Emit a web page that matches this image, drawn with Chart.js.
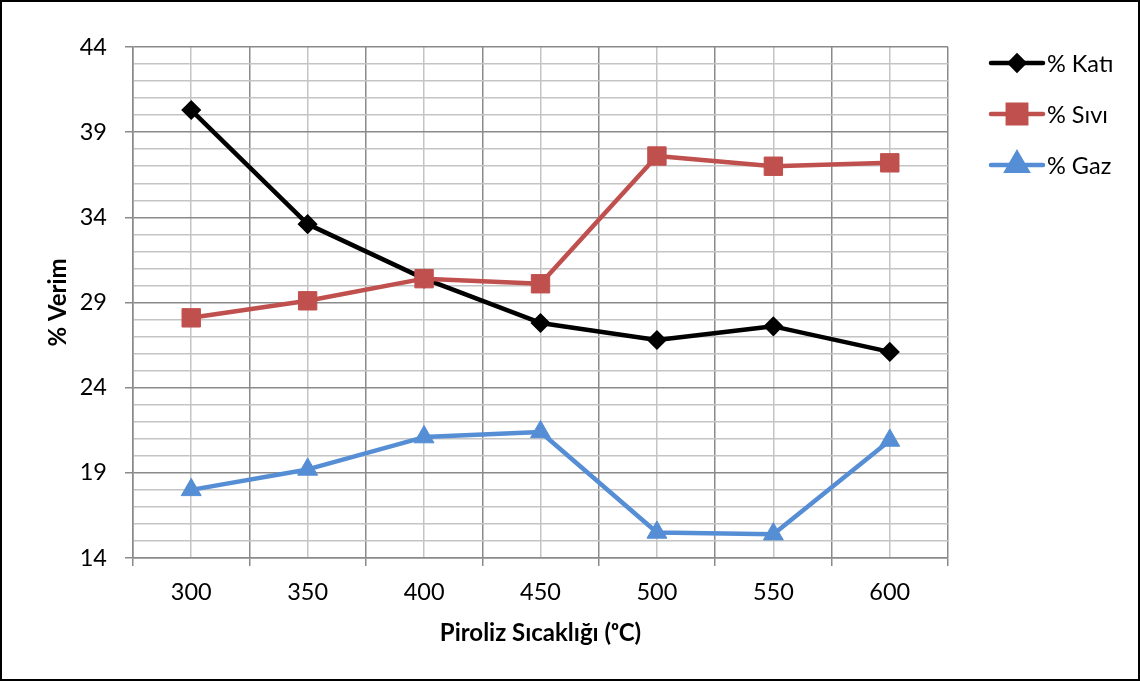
<!DOCTYPE html>
<html>
<head>
<meta charset="utf-8">
<script src="https://cdn.jsdelivr.net/npm/chart.js@4.4.0/dist/chart.umd.min.js"></script>
<style>
  html, body { margin: 0; padding: 0; background: #ffffff; }
  canvas { display: block; }
</style>
</head>
<body>
<canvas id="c" width="1140" height="681"></canvas>
<script>
// Pyrolysis temperature (°C) and product yields (%)
const temperatures = [300, 350, 400, 450, 500, 550, 600];
const solidYield  = [40.3, 33.6, 30.4, 27.8, 26.8, 27.6, 26.1];
const liquidYield = [28.1, 29.1, 30.4, 30.1, 37.6, 37.0, 37.2];
const gasYield    = [18.0, 19.2, 21.1, 21.4, 15.5, 15.4, 20.9];
const seriesNames = ['% Katı', '% Sıvı', '% Gaz'];
const yTickLabels = [14, 19, 24, 29, 34, 39, 44];
const xAxisTitle = 'Piroliz Sıcaklığı (ᵒC)';
const yAxisTitle = '% Verim';

const FONT = 'Lato, "Open Sans", "Liberation Sans", sans-serif';
const halfStep = (temperatures[1] - temperatures[0]) / 2;

const toPoints = vals => temperatures.map((t, i) => ({ x: t, y: vals[i] }));

const DARK_GRID = '#8a8a8a';
const LIGHT_GRID = '#c4c4c4';

// Legend on the right: line segment with the marker in its middle
const sideLegend = {
  id: 'sideLegend',
  afterDraw(chart) {
    const ctx = chart.ctx;
    const rows = [63, 114, 165];
    chart.data.datasets.forEach((ds, i) => {
      const y = rows[i];
      ctx.save();
      ctx.strokeStyle = ds.borderColor;
      ctx.lineWidth = 4.5;
      ctx.lineCap = 'round';
      ctx.beginPath();
      ctx.moveTo(991, y);
      ctx.lineTo(1043, y);
      ctx.stroke();
      ctx.fillStyle = ds.pointBackgroundColor;
      ctx.strokeStyle = ds.pointBorderColor;
      Chart.helpers.drawPoint(ctx, {
        pointStyle: ds.pointStyle,
        radius: ds.legendRadius,
        borderWidth: ds.pointBorderWidth,
        rotation: 0
      }, 1017, y);
      ctx.fillStyle = '#000';
      ctx.font = '23.5px ' + FONT;
      ctx.textAlign = 'left';
      ctx.textBaseline = 'middle';
      ctx.fillText(ds.label, 1047, y + 1);
      ctx.restore();
    });
  }
};

// Thin black frame around the whole figure
const frame = {
  id: 'frame',
  afterDraw(chart) {
    const ctx = chart.ctx;
    ctx.save();
    ctx.strokeStyle = '#000';
    ctx.lineWidth = 2;
    ctx.strokeRect(1, 1, chart.width - 2, chart.height - 2);
    ctx.restore();
  }
};

new Chart(document.getElementById('c'), {
  type: 'line',
  data: {
    datasets: [
      {
        label: seriesNames[0],
        data: toPoints(solidYield),
        borderColor: '#000000',
        backgroundColor: '#000000',
        pointBackgroundColor: '#000000',
        pointBorderColor: '#000000',
        pointStyle: 'rectRot',
        pointRadius: 9,
        legendRadius: 7,
        pointBorderWidth: 1.5,
        borderWidth: 4.5,
        order: 3
      },
      {
        label: seriesNames[1],
        data: toPoints(liquidYield),
        borderColor: '#C0504D',
        backgroundColor: '#C0504D',
        pointBackgroundColor: '#C0504D',
        pointBorderColor: '#C0504D',
        pointStyle: 'rect',
        pointRadius: 13,
        legendRadius: 13,
        pointBorderWidth: 1,
        borderWidth: 4.5,
        order: 2
      },
      {
        label: seriesNames[2],
        data: toPoints(gasYield),
        borderColor: '#558ED5',
        backgroundColor: '#558ED5',
        pointBackgroundColor: '#558ED5',
        pointBorderColor: '#558ED5',
        pointStyle: 'triangle',
        pointRadius: 11.5,
        legendRadius: 11.5,
        pointBorderWidth: 1,
        borderWidth: 4.5,
        order: 1
      }
    ]
  },
  options: {
    responsive: false,
    animation: false,
    devicePixelRatio: 1,
    layout: { padding: { top: 47, right: 192, left: 0, bottom: 0 } },
    elements: {
      line: { tension: 0, borderCapStyle: 'round', borderJoinStyle: 'round' },
      point: { hoverRadius: 9 }
    },
    plugins: {
      legend: { display: false },
      tooltip: { enabled: false }
    },
    scales: {
      x: {
        type: 'linear',
        min: temperatures[0] - halfStep,
        max: temperatures[temperatures.length - 1] + halfStep,
        afterFit(scale) { scale.height = 681 - 558; },
        ticks: {
          stepSize: halfStep,
          autoSkip: false,
          maxRotation: 0,
          padding: 12,
          color: '#000',
          font: { family: FONT, size: 23.5 },
          callback: v => (temperatures.includes(v) ? String(v) : '')
        },
        grid: {
          lineWidth: 1.5,
          tickLength: 8,
          color: c => (temperatures.includes(c.tick.value) ? LIGHT_GRID : DARK_GRID),
          tickColor: c => (temperatures.includes(c.tick.value) ? 'rgba(0,0,0,0)' : DARK_GRID)
        },
        border: { color: DARK_GRID, width: 1.5 },
        title: {
          display: true,
          text: xAxisTitle,
          color: '#000',
          font: { family: FONT, size: 24, weight: 'bold' },
          padding: { top: 0, bottom: 33 }
        }
      },
      y: {
        type: 'linear',
        min: yTickLabels[0],
        max: yTickLabels[yTickLabels.length - 1],
        afterFit(scale) { scale.width = 133; },
        ticks: {
          stepSize: 1,
          autoSkip: false,
          padding: 18,
          color: '#000',
          font: { family: FONT, size: 23.5 },
          callback: v => (yTickLabels.includes(v) ? String(v) : '')
        },
        grid: {
          lineWidth: 1.5,
          tickLength: 8,
          color: c => (yTickLabels.includes(c.tick.value) ? DARK_GRID : LIGHT_GRID),
          tickColor: c => (yTickLabels.includes(c.tick.value) ? DARK_GRID : 'rgba(0,0,0,0)')
        },
        border: { color: DARK_GRID, width: 1.5 },
        title: {
          display: true,
          text: yAxisTitle,
          color: '#000',
          font: { family: FONT, size: 24, weight: 'bold' },
          padding: { top: 44, bottom: 0 }
        }
      }
    }
  },
  plugins: [sideLegend, frame]
});
</script>
</body>
</html>
